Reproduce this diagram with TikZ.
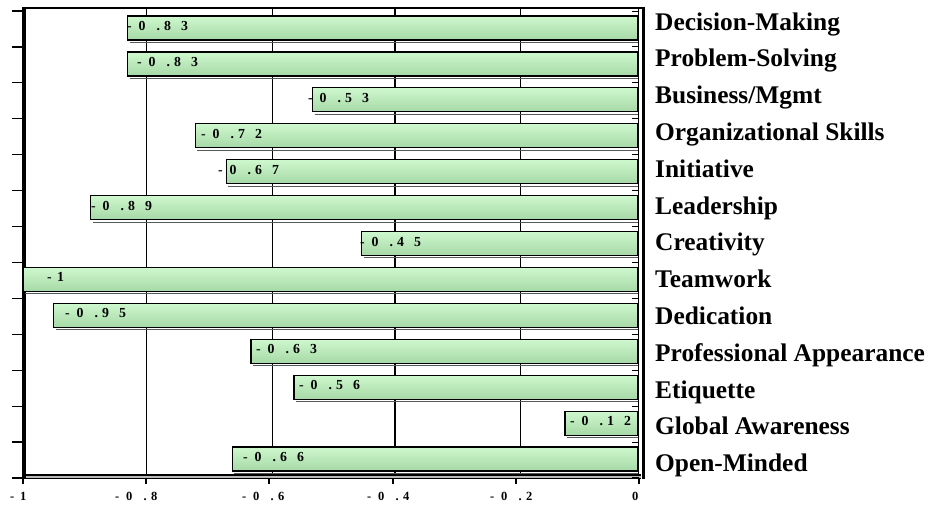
\documentclass[tikz,border=0pt]{standalone}
\usepackage{fontspec}
\setmainfont{Liberation Serif}
\definecolor{bartop}{RGB}{206,248,206}
\definecolor{barbot}{RGB}{166,216,166}
\newcommand\vl[2]{\makebox[11.5pt][l]{-}\makebox[18pt][l]{0}\makebox[7.5pt][l]{.}\makebox[17pt][l]{#1}#2}
\newcommand\al[1]{\makebox[11pt][l]{-}\makebox[17.5pt][l]{0}\makebox[7.5pt][l]{.}#1}
\begin{document}
\begin{tikzpicture}[x=1pt,y=-1pt,
  vlab/.style={anchor=base west, inner sep=0pt, font=\fontsize{13.8}{14}\selectfont\bfseries},
  cat/.style={anchor=base west, inner sep=0pt, font=\fontsize{25.4}{26}\selectfont\bfseries},
  alab/.style={anchor=base west, inner sep=0pt, font=\fontsize{12.5}{13}\selectfont\bfseries},
  gridline/.style={line width=1.3pt},
  axisline/.style={line width=1.2pt},
  barbox/.style={line width=1.2pt},
  barshade/.style={top color=bartop, bottom color=barbot}]
\useasboundingbox (0,0) rectangle (929,504);
% back wall gridlines
\foreach \gx in {146.7,272.7,395,520.7} \draw[gridline] (\gx,8) -- (\gx,475);
% floor
\fill[gray!55] (22,475) rectangle (641,478.5);
\draw[axisline] (24,475) -- (641,475);
\draw[axisline] (22,478.5) -- (641,478.5);
% top border
\draw[axisline] (22,8) -- (643,8);
% left axis
\fill (21.5,7) rectangle (25.5,479);
% left ticks
\foreach \k in {0,...,13} \draw[axisline] (12,11+35.92*\k) -- (22,11+35.92*\k);
% bottom ticks
\foreach \bx in {23,146,269,393,516,639} \draw[axisline] (\bx,478.5) -- (\bx,484);
% bars and labels
\foreach \k/\v/\lx/\lab/\name in {
  0/-0.83/127/{\vl83}/{Decision-Making},
  1/-0.83/137/{\vl83}/{Problem-Solving},
  2/-0.53/308/{\vl53}/{Business/Mgmt},
  3/-0.72/201/{\vl72}/{Organizational Skills},
  4/-0.67/218/{\vl67}/{Initiative},
  5/-0.89/91/{\vl89}/{Leadership},
  6/-0.45/360/{\vl45}/{Creativity},
  7/-1/47/{\makebox[10pt][l]{-}1}/{Teamwork},
  8/-0.95/65/{\vl95}/{Dedication},
  9/-0.63/256/{\vl63}/{Professional Appearance},
  10/-0.56/299/{\vl56}/{Etiquette},
  11/-0.12/570/{\vl12}/{Global Awareness},
  12/-0.66/243/{\vl66}/{Open-Minded}} {
  \pgfmathsetmacro\t{16+35.92*\k}
  \pgfmathsetmacro\bl{639+616*\v}
  \shade[barshade] (\bl,\t) rectangle (638,\t+24);
  \draw[barbox] (\bl,\t) rectangle (638,\t+24);
  \draw[gray!70!black, line width=0.8pt] (\bl+2,\t+26.3) -- (638,\t+26.3);
  \node[vlab] (v\k) at (\lx,\t+14.5) {\lab};
  \node[cat] (c\k) at (655,30+36.8*\k) {\name};
}
% right ticks
\foreach \k in {0,...,13} \draw[line width=1pt] (632,11+35.92*\k) -- (639,11+35.92*\k);
% right wall
\draw[line width=0.8pt] (638.5,8) -- (638.5,476);
\draw[line width=3pt] (643,7) -- (643,479);
% axis labels
\node[alab] (a1) at (10,500) {\makebox[10pt][l]{-}1};
\node[alab] (a2) at (115,500) {\al{8}};
\node[alab] (a3) at (242,500) {\al{6}};
\node[alab] (a4) at (367,500) {\al{4}};
\node[alab] (a5) at (490,500) {\al{2}};
\node[alab] (a6) at (632,500) {0};
\end{tikzpicture}
\end{document}
